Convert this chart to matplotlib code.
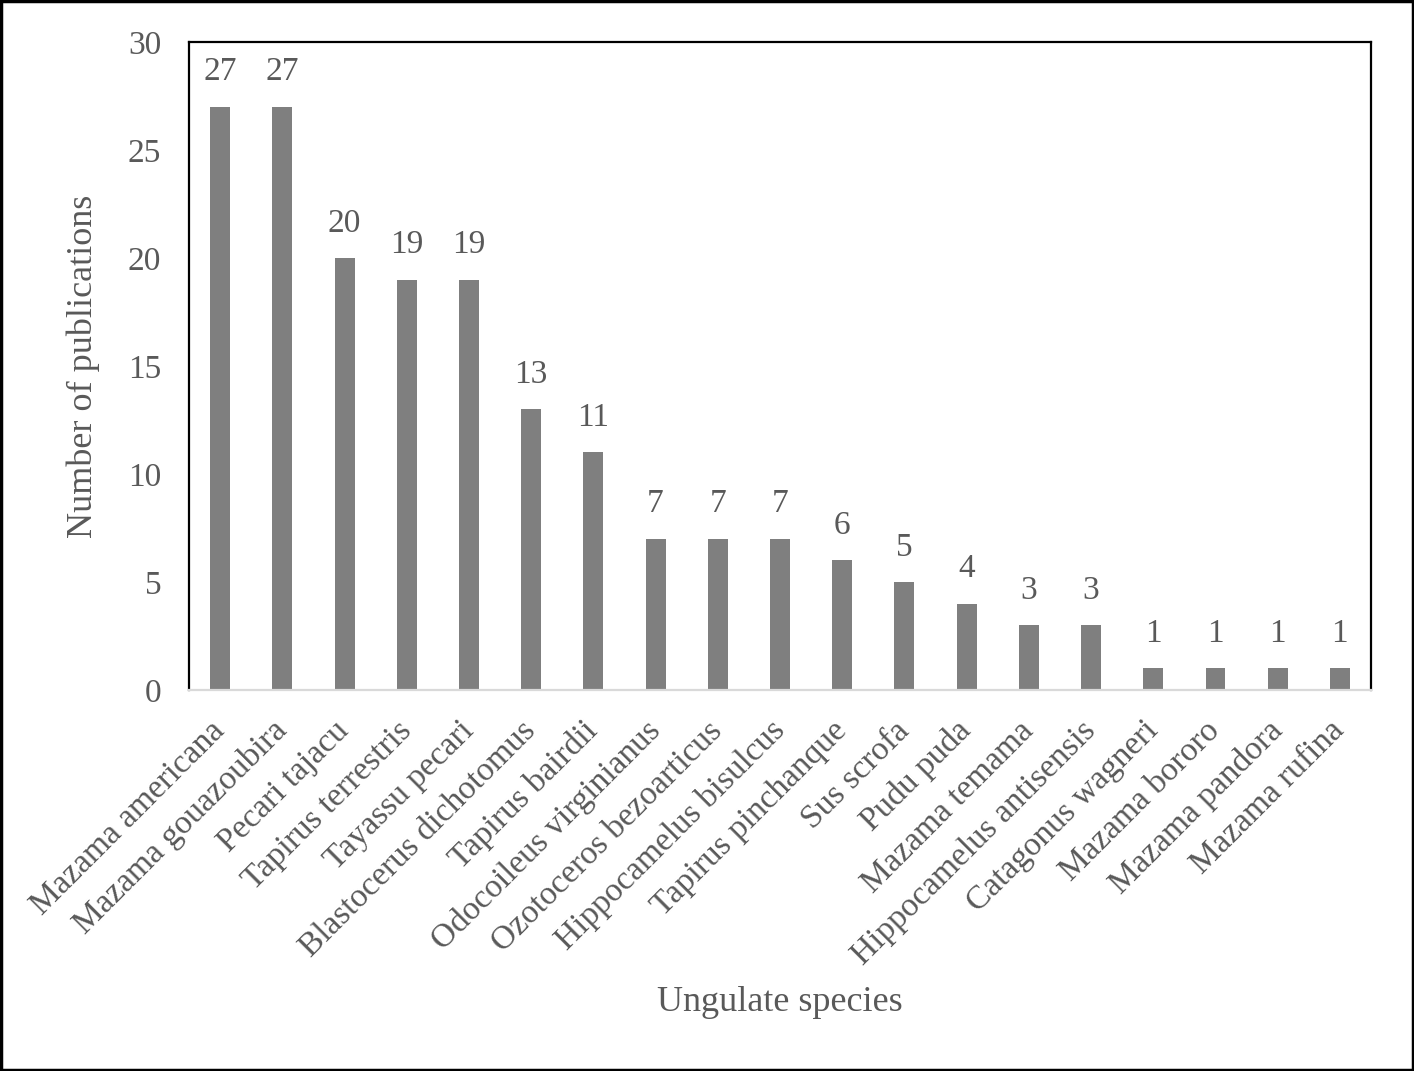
import matplotlib.pyplot as plt
from matplotlib.patches import Rectangle

# Publications per ungulate species
species = ['Mazama americana', 'Mazama gouazoubira', 'Pecari tajacu', 'Tapirus terrestris',
           'Tayassu pecari', 'Blastocerus dichotomus', 'Tapirus bairdii',
           'Odocoileus virginianus', 'Ozotoceros bezoarticus', 'Hippocamelus bisulcus',
           'Tapirus pinchanque', 'Sus scrofa', 'Pudu puda', 'Mazama temama',
           'Hippocamelus antisensis', 'Catagonus wagneri', 'Mazama bororo',
           'Mazama pandora', 'Mazama rufina']
n_pubs = [27, 27, 20, 19, 19, 13, 11, 7, 7, 7, 6, 5, 4, 3, 3, 1, 1, 1, 1]
y_ticks = [0, 5, 10, 15, 20, 25, 30]

txt_col = '#595959'
plt.rcParams['font.family'] = ['Liberation Serif', 'DejaVu Serif']

fig = plt.figure(figsize=(14.14, 10.71), dpi=100)
ax = fig.add_axes([0.1337, 0.3557, 0.8359, 0.6051])

x = range(len(species))
ax.bar(x, n_pubs, width=0.32, color='#7f7f7f', zorder=2)
for xi, v in zip(x, n_pubs):
    ax.text(xi, v + 0.9, str(v), ha='center', va='bottom', fontsize=24, color=txt_col)

ax.set_xlim(-0.5, len(species) - 0.5)
ax.set_ylim(0, 30)
ax.set_yticks(y_ticks)
ax.set_xticks(list(x))
ax.set_xticklabels(species, rotation=45, ha='right', va='center', rotation_mode='anchor')
ax.tick_params(axis='both', length=0, labelsize=24, labelcolor=txt_col)
ax.tick_params(axis='y', pad=20)
ax.tick_params(axis='x', pad=26)

for s in ['left', 'top', 'right']:
    ax.spines[s].set_color('black')
    ax.spines[s].set_linewidth(1.6)
ax.spines['bottom'].set_color('#d9d9d9')
ax.spines['bottom'].set_linewidth(1.6)

ax.set_ylabel('Number of publications', fontsize=26, color=txt_col, labelpad=20)
fig.text(0.5516, 0.064, 'Ungulate species', ha='center', va='center', fontsize=26, color=txt_col)

# border round the whole figure
fig.patches.append(Rectangle((0.001, 0.001), 0.998, 0.998, transform=fig.transFigure,
                             fill=False, edgecolor='black', linewidth=2.5))

fig.savefig('out.png', dpi=100)
